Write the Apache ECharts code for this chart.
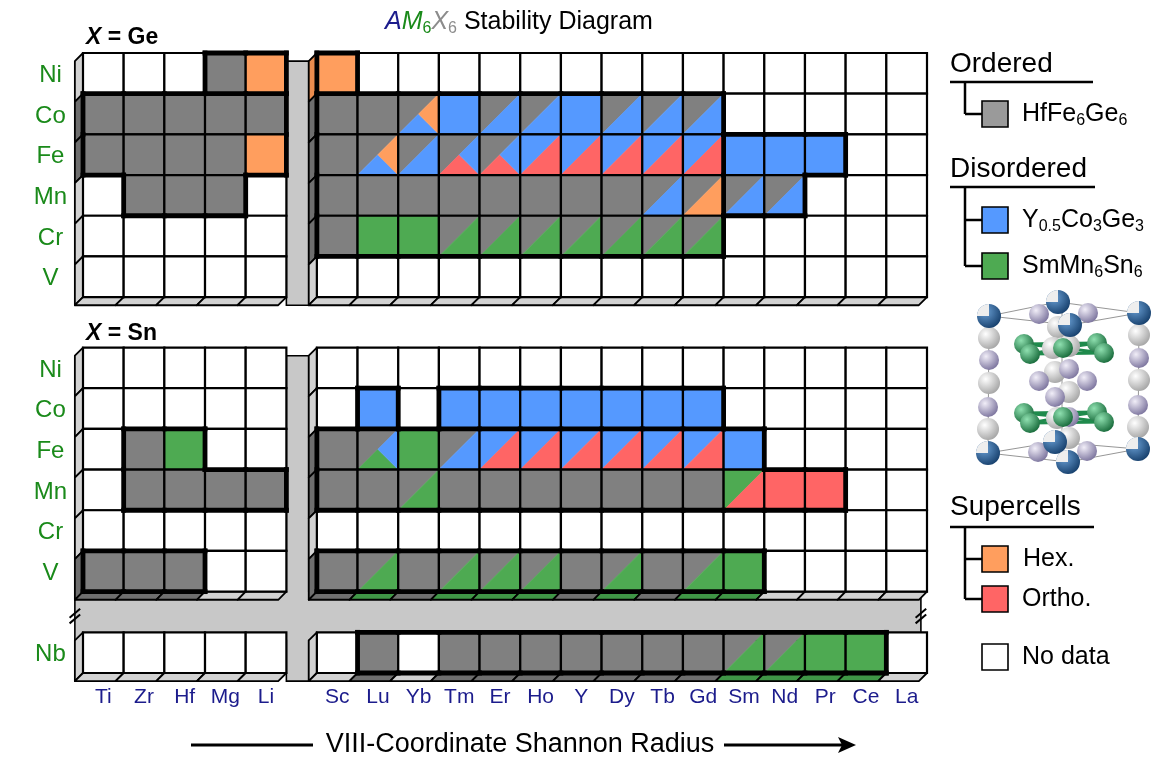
<!DOCTYPE html>
<html>
<head>
<meta charset="utf-8">
<script src="https://cdn.jsdelivr.net/npm/echarts/dist/echarts.min.js"></script>
<style>
  html, body { margin: 0; padding: 0; background: #fff; }
  #chart-wrapper { width: 1168px; height: 768px; }
</style>
</head>
<body>
<div id="chart-wrapper"></div>
<script>
// columns (A site) and rows (M site)
const colsLeft = ["Ti", "Zr", "Hf", "Mg", "Li"];
const colsRight = ["Sc", "Lu", "Yb", "Tm", "Er", "Ho", "Y", "Dy", "Tb", "Gd", "Sm", "Nd", "Pr", "Ce", "La"];
const rowsMain = ["Ni", "Co", "Fe", "Mn", "Cr", "V"];
const rowsExtra = ["Nb"];

// cell phases: w none, g HfFe6Ge6, b Y0.5Co3Ge3, G SmMn6Sn6, o hex, r ortho
// "a-b" = upper-left a / lower-right b, "a-b-c" = upper-left a / bottom b / right c
const geLeftFill = [
  ["w", "w", "w", "g", "o"],
  ["g", "g", "g", "g", "g"],
  ["g", "g", "g", "g", "o"],
  ["w", "g", "g", "g", "w"],
  ["w", "w", "w", "w", "w"],
  ["w", "w", "w", "w", "w"],
];
const geLeftGroup = ["00011", "22222", "22222", "02220", "00000", "00000"];

const geRightFill = [
  ["o", "w", "w", "w", "w", "w", "w", "w", "w", "w", "w", "w", "w", "w", "w"],
  ["g", "g", "g-b-o", "b", "g-b", "g-b", "b", "g-b", "g-b", "g-b", "w", "w", "w", "w", "w"],
  ["g", "g-b-o", "g-b", "g-r-b", "g-r-b", "b-r", "b-r", "b-r", "b-r", "b-r", "b", "b", "b", "w", "w"],
  ["g", "g", "g", "g", "g", "g", "g", "g", "g-b", "g-o", "g-b", "g-b", "w", "w", "w"],
  ["g", "G", "G", "g-G", "g-G", "g-G", "g-G", "g-G", "g-G", "g-G", "w", "w", "w", "w", "w"],
  ["w", "w", "w", "w", "w", "w", "w", "w", "w", "w", "w", "w", "w", "w", "w"],
];
const geRightGroup = [
  "100000000000000",
  "222222222200000",
  "222222222233300",
  "222222222233000",
  "222222222200000",
  "000000000000000",
];

const snLeftFill = [
  ["w", "w", "w", "w", "w"],
  ["w", "w", "w", "w", "w"],
  ["w", "g", "G", "w", "w"],
  ["w", "g", "g", "g", "g"],
  ["w", "w", "w", "w", "w"],
  ["g", "g", "g", "w", "w"],
];
const snLeftGroup = ["00000", "00000", "01100", "01111", "00000", "22200"];

const snRightFill = [
  ["w", "w", "w", "w", "w", "w", "w", "w", "w", "w", "w", "w", "w", "w", "w"],
  ["w", "b", "w", "b", "b", "b", "b", "b", "b", "b", "w", "w", "w", "w", "w"],
  ["g", "g-G-b", "G", "g-b", "b-r", "b-r", "b-r", "b-r", "b-r", "b-r", "b", "w", "w", "w", "w"],
  ["g", "g", "g-G", "g", "g", "g", "g", "g", "g", "g", "G-r", "r", "r", "w", "w"],
  ["w", "w", "w", "w", "w", "w", "w", "w", "w", "w", "w", "w", "w", "w", "w"],
  ["g", "g-G", "g", "g-G", "g-G", "g-G", "g", "g-G", "g", "g-G", "G", "w", "w", "w", "w"],
];
const snRightGroup = [
  "000000000000000",
  "010222222200000",
  "333333333330000",
  "333333333333300",
  "000000000000000",
  "444444444440000",
];

const nbLeftFill = [["w", "w", "w", "w", "w"]];
const nbLeftGroup = ["00000"];
const nbRightFill = [["w", "g", "w", "g", "g", "g", "g", "g", "g", "g", "g-G", "g-G", "G", "G", "w"]];
const nbRightGroup = ["011111111111110"];

////////////// styles
const COLORS = { w: "#ffffff", g: "#808080", b: "#5599ff", G: "#4eaa52", o: "#ff9e5e", r: "#ff6565" };
const FACE = { w: "#d2d2d2", g: "#6e6e6e", b: "#4a85e0", G: "#3f9646", o: "#ea8c4e", r: "#e25454" };
const FONT = "'Liberation Sans', Arial, Helvetica, sans-serif";
const ROW_COLOR = "#1a8a1a";
const COL_COLOR = "#1c1c8c";

////////////// layout (data units = one cell)
const RIGHT_X0 = 5.75;
const SN_Y0 = 7.24;
const NB_Y0 = 14.24;
const D = 0.2; // depth of the 3D faces
const X_MAX = 20.75;
const Y_MAX = 15.24;

const blocks = [
  { fill: geLeftFill, group: geLeftGroup, x0: 0, y0: 0 },
  { fill: geRightFill, group: geRightGroup, x0: RIGHT_X0, y0: 0 },
  { fill: snLeftFill, group: snLeftGroup, x0: 0, y0: SN_Y0 },
  { fill: snRightFill, group: snRightGroup, x0: RIGHT_X0, y0: SN_Y0 },
  { fill: nbLeftFill, group: nbLeftGroup, x0: 0, y0: NB_Y0 },
  { fill: nbRightFill, group: nbRightGroup, x0: RIGHT_X0, y0: NB_Y0 },
];

const cells = [];
const faces = [];
const edges = [];
blocks.forEach((b) => {
  const R = b.fill.length;
  const C = b.fill[0].length;
  b.fill.forEach((row, r) => {
    row.forEach((code, c) => {
      cells.push({ x: b.x0 + c, y: b.y0 + r, code: code });
    });
    faces.push({ kind: "left", x: b.x0, y: b.y0 + r, color: FACE[row[0].split("-")[0]] });
  });
  b.fill[R - 1].forEach((code, c) => {
    const p = code.split("-");
    faces.push({ kind: "bottom", x: b.x0 + c, y: b.y0 + R, color: FACE[p[1] || p[0]] });
  });
  const grp = (r, c) => (r < 0 || r >= R || c < 0 || c >= C ? 0 : +b.group[r][c]);
  for (let r = 0; r <= R; r++) {
    for (let c = 0; c < C; c++) {
      const a = grp(r - 1, c), z = grp(r, c);
      if (a !== z && (a || z)) edges.push([b.x0 + c, b.y0 + r, b.x0 + c + 1, b.y0 + r]);
    }
  }
  for (let c = 0; c <= C; c++) {
    for (let r = 0; r < R; r++) {
      const a = grp(r, c - 1), z = grp(r, c);
      if (a !== z && (a || z)) edges.push([b.x0 + c, b.y0 + r, b.x0 + c, b.y0 + r + 1]);
    }
  }
});

const ROW_LABEL_X = -0.8;
const COL_LABEL_Y = 15.83;
const labels = [];
rowsMain.forEach((m, i) => {
  labels.push({ x: ROW_LABEL_X, y: i + 0.55, text: m, color: ROW_COLOR, size: 24 });
  labels.push({ x: ROW_LABEL_X, y: SN_Y0 + i + 0.55, text: m, color: ROW_COLOR, size: 24 });
});
rowsExtra.forEach((m, i) => {
  labels.push({ x: ROW_LABEL_X, y: NB_Y0 + i + 0.55, text: m, color: ROW_COLOR, size: 24 });
});
colsLeft.forEach((a, i) => labels.push({ x: i + 0.5, y: COL_LABEL_Y, text: a, color: COL_COLOR, size: 21 }));
colsRight.forEach((a, i) => labels.push({ x: RIGHT_X0 + i + 0.5, y: COL_LABEL_Y, text: a, color: COL_COLOR, size: 21 }));

////////////// render helpers
const pts = (api, list) => list.map((p) => api.coord(p));

const renderBands = (params, api) => {
  const band = { fill: "#c8c8c8", stroke: "#000", lineWidth: 1.6 };
  const ge = [[5.0, D], [RIGHT_X0 - D, D], [RIGHT_X0 - D, 6 + D], [5.0, 6 + D]];
  const sb = SN_Y0 + 6;
  const sn = [
    [5.0, SN_Y0 + D], [RIGHT_X0 - D, SN_Y0 + D], [RIGHT_X0 - D, sb], [20.6, sb],
    [20.6, NB_Y0 + D], [RIGHT_X0 - D, NB_Y0 + D], [RIGHT_X0 - D, NB_Y0 + 1 + D],
    [5.0, NB_Y0 + 1 + D], [5.0, NB_Y0 + D], [-D, NB_Y0 + D], [-D, sb], [5.0, sb],
  ];
  const children = [
    { type: "polygon", shape: { points: pts(api, ge) }, style: band },
    { type: "polygon", shape: { points: pts(api, sn) }, style: band },
  ];
  const ym = (sb + D + NB_Y0) / 2;
  [-D, 20.6].forEach((xb) => {
    [-0.07, 0.07].forEach((k) => {
      const p = pts(api, [[xb - 0.13, ym + 0.11 + k], [xb + 0.13, ym - 0.11 + k]]);
      children.push({
        type: "line",
        shape: { x1: p[0][0], y1: p[0][1], x2: p[1][0], y2: p[1][1] },
        style: { stroke: "#000", lineWidth: 2 },
      });
    });
  });
  return { type: "group", children: children };
};

const renderFace = (params, api) => {
  const f = faces[params.dataIndex];
  const list = f.kind === "left"
    ? [[f.x, f.y], [f.x, f.y + 1], [f.x - D, f.y + 1 + D], [f.x - D, f.y + D]]
    : [[f.x, f.y], [f.x + 1, f.y], [f.x + 1 - D, f.y + D], [f.x - D, f.y + D]];
  return {
    type: "polygon",
    shape: { points: pts(api, list) },
    style: { fill: f.color, stroke: "#000", lineWidth: 1.8, lineJoin: "round" },
  };
};

const renderCell = (params, api) => {
  const cell = cells[params.dataIndex];
  const tl = api.coord([cell.x, cell.y]);
  const br = api.coord([cell.x + 1, cell.y + 1]);
  const x1 = tl[0], y1 = tl[1], x2 = br[0], y2 = br[1];
  const cx = (x1 + x2) / 2, cy = (y1 + y2) / 2;
  const parts = cell.code.split("-");
  const poly = (points, key) => ({
    type: "polygon",
    shape: { points: points },
    style: { fill: COLORS[key], stroke: COLORS[key], lineWidth: 0.6 },
  });
  const children = [];
  if (parts.length === 1) {
    children.push(poly([[x1, y1], [x2, y1], [x2, y2], [x1, y2]], parts[0]));
  } else {
    children.push(poly([[x1, y1], [x2, y1], [x1, y2]], parts[0]));
    if (parts.length === 2) {
      children.push(poly([[x2, y1], [x2, y2], [x1, y2]], parts[1]));
    } else {
      children.push(poly([[x1, y2], [cx, cy], [x2, y2]], parts[1]));
      children.push(poly([[x2, y1], [x2, y2], [cx, cy]], parts[2]));
    }
  }
  children.push({
    type: "rect",
    shape: { x: x1, y: y1, width: x2 - x1, height: y2 - y1 },
    style: { fill: null, stroke: "#000", lineWidth: 2.2 },
  });
  return { type: "group", children: children };
};

const renderEdge = (params, api) => {
  const e = edges[params.dataIndex];
  const p = pts(api, [[e[0], e[1]], [e[2], e[3]]]);
  return {
    type: "line",
    shape: { x1: p[0][0], y1: p[0][1], x2: p[1][0], y2: p[1][1] },
    style: { stroke: "#000", lineWidth: 4.8, lineCap: "square" },
  };
};

const renderLabel = (params, api) => {
  const l = labels[params.dataIndex];
  const p = api.coord([l.x, l.y]);
  return {
    type: "text",
    x: p[0],
    y: p[1],
    style: {
      text: l.text,
      fill: l.color,
      font: l.size + "px " + FONT,
      align: "center",
      verticalAlign: "middle",
    },
  };
};

////////////// legend / decoration
const sub = (fill) => ({ fontSize: 16, lineHeight: 16, verticalAlign: "bottom", fill: fill, color: fill, fontFamily: FONT });
const main = (fill, extra) => Object.assign({ fontSize: 25, lineHeight: 30, fill: fill, color: fill, fontFamily: FONT }, extra || {});

const richText = (x, y, text, rich) => ({
  type: "text",
  x: x,
  y: y,
  style: { text: text, rich: rich, verticalAlign: "middle", align: "left", font: "25px " + FONT },
});

const line = (x1, y1, x2, y2, w) => ({
  type: "line",
  shape: { x1: x1, y1: y1, x2: x2, y2: y2 },
  style: { stroke: "#000", lineWidth: w || 2.5 },
});
const square = (y, fill) => ({
  type: "rect",
  shape: { x: 982, y: y - 13, width: 26, height: 26 },
  style: { fill: fill, stroke: "#000", lineWidth: 1.6 },
});
const heading = (y, text) => ({
  type: "text",
  x: 950,
  y: y,
  style: { text: text, font: "28px " + FONT, fill: "#000", verticalAlign: "middle" },
});

const legendGraphics = [
  heading(64, "Ordered"),
  line(950, 82, 1093, 82),
  line(965, 82, 965, 114), line(965, 114, 982, 114),
  square(114, "#9a9a9a"),
  richText(1022, 114, "{t|HfFe}{s|6}{t|Ge}{s|6}", { t: main("#000"), s: sub("#000") }),

  heading(169, "Disordered"),
  line(950, 187, 1095, 187),
  line(965, 187, 965, 266), line(965, 220, 982, 220), line(965, 266, 982, 266),
  square(220, COLORS.b),
  square(266, COLORS.G),
  richText(1022, 220, "{t|Y}{s|0.5}{t|Co}{s|3}{t|Ge}{s|3}", { t: main("#000"), s: sub("#000") }),
  richText(1022, 266, "{t|SmMn}{s|6}{t|Sn}{s|6}", { t: main("#000"), s: sub("#000") }),

  heading(507, "Supercells"),
  line(950, 527, 1094, 527),
  line(965, 527, 965, 599), line(965, 559, 982, 559), line(965, 599, 982, 599),
  square(559, COLORS.o),
  square(599, COLORS.r),
  { type: "text", x: 1023, y: 559, style: { text: "Hex.", font: "25px " + FONT, fill: "#000", verticalAlign: "middle" } },
  { type: "text", x: 1022, y: 599, style: { text: "Ortho.", font: "25px " + FONT, fill: "#000", verticalAlign: "middle" } },

  square(657, "#ffffff"),
  { type: "text", x: 1022, y: 657, style: { text: "No data", font: "25px " + FONT, fill: "#000", verticalAlign: "middle" } },
];

// title and panel labels
const titleGraphics = [
  richText(385, 22, "{a|A}{m|M}{ms|6}{x|X}{xs|6}{t| Stability Diagram}", {
    a: main("#1c1c8c", { fontStyle: "italic", fontSize: 25 }),
    m: main("#1a8a1a", { fontStyle: "italic", fontSize: 25 }),
    ms: sub("#1a8a1a"),
    x: main("#8c8c8c", { fontStyle: "italic", fontSize: 25 }),
    xs: sub("#8c8c8c"),
    t: main("#000", { fontSize: 25 }),
  }),
  richText(86, 38, "{x|X}{t| = Ge}", {
    x: main("#000", { fontSize: 23, fontWeight: "bold", fontStyle: "italic" }),
    t: main("#000", { fontSize: 23, fontWeight: "bold" }),
  }),
  richText(86, 334, "{x|X}{t| = Sn}", {
    x: main("#000", { fontSize: 23, fontWeight: "bold", fontStyle: "italic" }),
    t: main("#000", { fontSize: 23, fontWeight: "bold" }),
  }),
  line(191, 745, 313, 745, 3),
  line(724, 745, 842, 745, 3),
  { type: "polygon", shape: { points: [[856, 745], [838, 737], [842, 745], [838, 753]] }, style: { fill: "#000" } },
  { type: "text", x: 520, y: 745, style: { text: "VIII-Coordinate Shannon Radius", font: "27px " + FONT, fill: "#000", align: "center", verticalAlign: "middle" } },
];

// crystal structure sketch
const ball = (x, y, r, c1, c2) => ({
  type: "circle",
  shape: { cx: x, cy: y, r: r },
  style: {
    fill: new echarts.graphic.RadialGradient(0.35, 0.32, 0.8, [
      { offset: 0, color: c1 },
      { offset: 1, color: c2 },
    ]),
  },
});
const thin = (x1, y1, x2, y2, c, w) => ({
  type: "line",
  shape: { x1: x1, y1: y1, x2: x2, y2: y2 },
  style: { stroke: c || "#8a8a8a", lineWidth: w || 0.9 },
});
const blueAtoms = [[989, 316], [1139, 313], [1058, 302], [1070, 325], [988, 453], [1138, 449], [1055, 442], [1068, 462]];
const whiteAtoms = [[989, 338], [989, 383], [988, 429], [1139, 335], [1139, 380], [1138, 427], [1058, 327], [1053, 348], [1055, 372], [1069, 392], [1057, 418], [1069, 438], [1069, 346]];
const purpleAtoms = [[989, 360], [988, 407], [1139, 358], [1138, 405], [1039, 314], [1088, 313], [1038, 452], [1087, 451], [1039, 381], [1087, 381], [1069, 369], [1069, 417], [1055, 397]];
const greenAtoms = [[1024, 344], [1030, 354], [1063, 348], [1097, 343], [1104, 353]];

const crystal = [];
[[989, 316, 1058, 302], [1058, 302, 1139, 313], [989, 316, 1070, 325], [1070, 325, 1139, 313],
 [988, 453, 1055, 442], [1055, 442, 1138, 449], [988, 453, 1068, 462], [1068, 462, 1138, 449],
 [989, 316, 988, 453], [1139, 313, 1138, 449], [1062, 302, 1062, 462]].forEach((s) => crystal.push(thin(s[0], s[1], s[2], s[3])));
[0, 69].forEach((dy) => {
  [[0, 2], [1, 2], [2, 3], [2, 4], [0, 1], [3, 4], [1, 4], [0, 3]].forEach((pr) => {
    const a = greenAtoms[pr[0]], b = greenAtoms[pr[1]];
    crystal.push(thin(a[0], a[1] + dy, b[0], b[1] + dy, "#1f8a4c", 3));
  });
});
whiteAtoms.forEach((p) => crystal.push(ball(p[0], p[1], 11, "#ffffff", "#9c9c9c")));
purpleAtoms.forEach((p) => crystal.push(ball(p[0], p[1], 10, "#f1eef8", "#6f6794")));
[0, 69].forEach((dy) => greenAtoms.forEach((p) => crystal.push(ball(p[0], p[1] + dy, 10, "#8fe0b0", "#0b5e2e"))));
blueAtoms.forEach((p) => {
  crystal.push(ball(p[0], p[1], 12, "#6a9fd4", "#0f3763"));
  crystal.push({
    type: "sector",
    shape: { cx: p[0], cy: p[1], r: 12, r0: 0, startAngle: Math.PI, endAngle: Math.PI * 1.5 },
    style: { fill: "#eeeeee" },
  });
});

////////////// chart
const chartDom = document.getElementById("chart-wrapper");
const chart = echarts.init(chartDom, null, { renderer: "canvas" });

const option = {
  animation: false,
  backgroundColor: "#ffffff",
  grid: { left: 83, top: 53, width: 844, height: 620 },
  xAxis: { type: "value", min: 0, max: X_MAX, show: false },
  yAxis: { type: "value", min: 0, max: Y_MAX, inverse: true, show: false },
  graphic: { elements: legendGraphics.concat(titleGraphics, crystal) },
  series: [
    { type: "custom", name: "bands", z: 1, clip: false, silent: true, data: [[0, 0]], renderItem: renderBands },
    { type: "custom", name: "faces", z: 2, clip: false, silent: true, data: faces.map((f) => [f.x, f.y]), renderItem: renderFace },
    { type: "custom", name: "cells", z: 3, clip: false, data: cells.map((c) => [c.x, c.y]), renderItem: renderCell },
    { type: "custom", name: "outline", z: 4, clip: false, silent: true, data: edges.map((e) => [e[0], e[1]]), renderItem: renderEdge },
    { type: "custom", name: "labels", z: 5, clip: false, silent: true, data: labels.map((l) => [l.x, l.y]), renderItem: renderLabel },
  ],
};
chart.setOption(option);
</script>
</body>
</html>
